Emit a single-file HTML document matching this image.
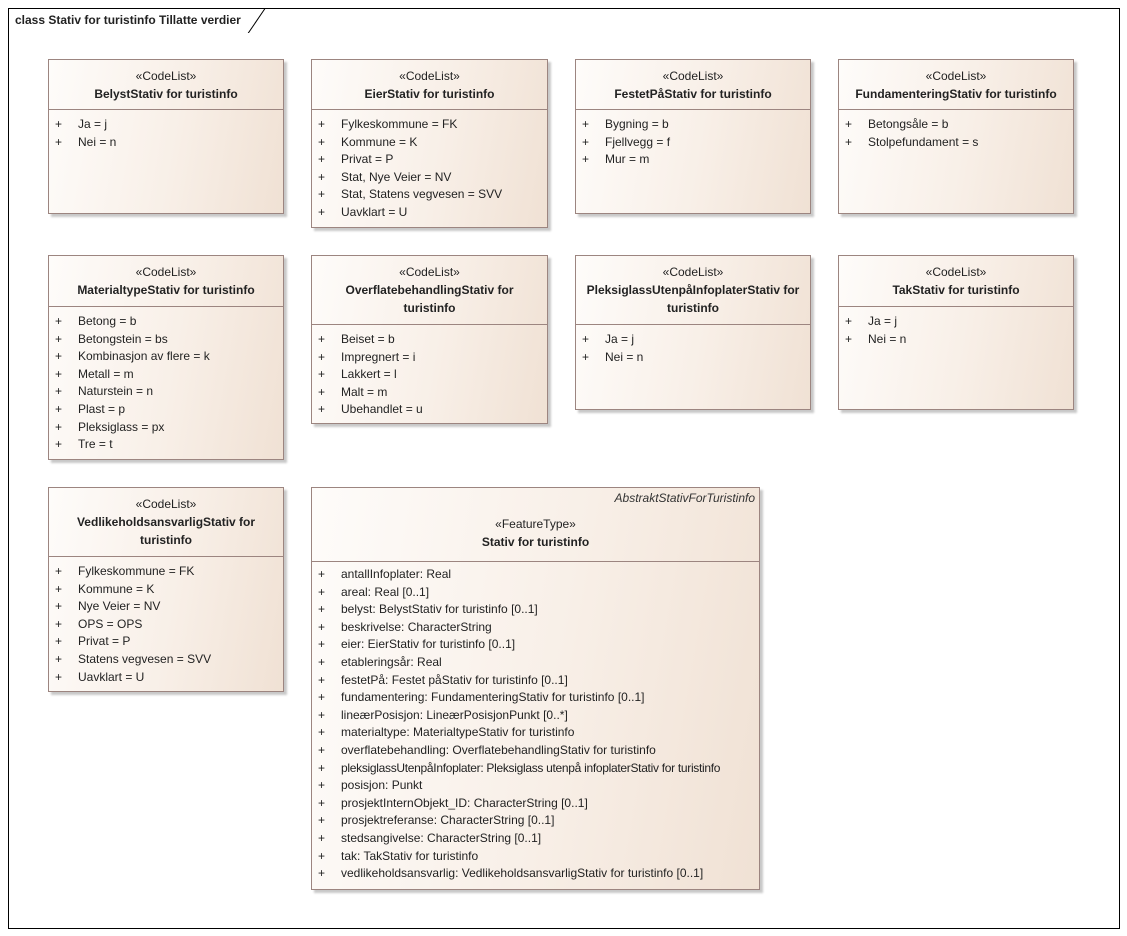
<!DOCTYPE html>
<html><head><meta charset="utf-8"><style>
body{margin:0;width:1127px;height:936px;background:#fff;font-family:"Liberation Sans",sans-serif;font-size:12px;color:#222;position:relative;overflow:hidden}
.frame{position:absolute;left:8px;top:8px;width:1110px;height:919px;border:1px solid #000}
.tab{position:absolute;left:8px;top:8px;height:25px}
.tab span{position:absolute;left:7px;top:5px;font-weight:bold;font-size:12px;white-space:nowrap}
.box{position:absolute;border:1px solid #9c8580;background:linear-gradient(100deg,#fefcfa 0%,#f8efe7 55%,#f0e1d4 100%);box-shadow:3px 3px 2px #c8c8c8;box-sizing:border-box}
.hd{border-bottom:1px solid #9c8580;text-align:center;box-sizing:border-box;padding-top:7px;line-height:18px}
.hd b{display:block}
.at{padding:6px 0 0 6px;line-height:17.6px;white-space:nowrap}
.at div span{display:inline-block;width:23px}
.ab{position:absolute;right:4px;top:3px;font-style:italic;color:#333}
</style></head><body>
<div class="frame"></div>
<svg class="tab" width="262" height="26" style="position:absolute;left:8px;top:8px"><path d="M0 25.5 H240 L257 0.5" fill="none" stroke="#000"/></svg>
<div class="tab" style="width:260px"><span>class Stativ for turistinfo Tillatte verdier</span></div>

<div class="box" style="left:48px;top:59px;width:236px;height:155px"><div class="hd" style="height:50px">«CodeList»<b>BelystStativ for turistinfo</b></div><div class="at"><div><span>+</span>Ja = j</div><div><span>+</span>Nei = n</div></div></div>

<div class="box" style="left:311px;top:59px;width:237px;height:169px"><div class="hd" style="height:50px">«CodeList»<b>EierStativ for turistinfo</b></div><div class="at"><div><span>+</span>Fylkeskommune = FK</div><div><span>+</span>Kommune = K</div><div><span>+</span>Privat = P</div><div><span>+</span>Stat, Nye Veier = NV</div><div><span>+</span>Stat, Statens vegvesen = SVV</div><div><span>+</span>Uavklart = U</div></div></div>

<div class="box" style="left:575px;top:59px;width:236px;height:155px"><div class="hd" style="height:50px">«CodeList»<b>FestetPåStativ for turistinfo</b></div><div class="at"><div><span>+</span>Bygning = b</div><div><span>+</span>Fjellvegg = f</div><div><span>+</span>Mur = m</div></div></div>

<div class="box" style="left:838px;top:59px;width:236px;height:155px"><div class="hd" style="height:50px">«CodeList»<b>FundamenteringStativ for turistinfo</b></div><div class="at"><div><span>+</span>Betongsåle = b</div><div><span>+</span>Stolpefundament = s</div></div></div>

<div class="box" style="left:48px;top:255px;width:236px;height:205px"><div class="hd" style="height:51px">«CodeList»<b>MaterialtypeStativ for turistinfo</b></div><div class="at"><div><span>+</span>Betong = b</div><div><span>+</span>Betongstein = bs</div><div><span>+</span>Kombinasjon av flere = k</div><div><span>+</span>Metall = m</div><div><span>+</span>Naturstein = n</div><div><span>+</span>Plast = p</div><div><span>+</span>Pleksiglass = px</div><div><span>+</span>Tre = t</div></div></div>

<div class="box" style="left:311px;top:255px;width:237px;height:169px"><div class="hd" style="height:69px">«CodeList»<b>OverflatebehandlingStativ for<br>turistinfo</b></div><div class="at"><div><span>+</span>Beiset = b</div><div><span>+</span>Impregnert = i</div><div><span>+</span>Lakkert = l</div><div><span>+</span>Malt = m</div><div><span>+</span>Ubehandlet = u</div></div></div>

<div class="box" style="left:575px;top:255px;width:236px;height:155px"><div class="hd" style="height:69px">«CodeList»<b>PleksiglassUtenpåInfoplaterStativ for<br>turistinfo</b></div><div class="at"><div><span>+</span>Ja = j</div><div><span>+</span>Nei = n</div></div></div>

<div class="box" style="left:838px;top:255px;width:236px;height:155px"><div class="hd" style="height:51px">«CodeList»<b>TakStativ for turistinfo</b></div><div class="at"><div><span>+</span>Ja = j</div><div><span>+</span>Nei = n</div></div></div>

<div class="box" style="left:48px;top:487px;width:236px;height:205px"><div class="hd" style="height:69px">«CodeList»<b>VedlikeholdsansvarligStativ for<br>turistinfo</b></div><div class="at"><div><span>+</span>Fylkeskommune = FK</div><div><span>+</span>Kommune = K</div><div><span>+</span>Nye Veier = NV</div><div><span>+</span>OPS = OPS</div><div><span>+</span>Privat = P</div><div><span>+</span>Statens vegvesen = SVV</div><div><span>+</span>Uavklart = U</div></div></div>

<div class="box" style="left:311px;top:487px;width:449px;height:403px"><div class="ab">AbstraktStativForTuristinfo</div><div class="hd" style="height:74px;padding-top:27px">«FeatureType»<b>Stativ for turistinfo</b></div><div class="at" style="padding-top:4px"><div><span>+</span>antallInfoplater: Real</div><div><span>+</span>areal: Real [0..1]</div><div><span>+</span>belyst: BelystStativ for turistinfo [0..1]</div><div><span>+</span>beskrivelse: CharacterString</div><div><span>+</span>eier: EierStativ for turistinfo [0..1]</div><div><span>+</span>etableringsår: Real</div><div><span>+</span>festetPå: Festet påStativ for turistinfo [0..1]</div><div><span>+</span>fundamentering: FundamenteringStativ for turistinfo [0..1]</div><div><span>+</span>lineærPosisjon: LineærPosisjonPunkt [0..*]</div><div><span>+</span>materialtype: MaterialtypeStativ for turistinfo</div><div><span>+</span>overflatebehandling: OverflatebehandlingStativ for turistinfo</div><div><span>+</span><span style="width:auto;letter-spacing:-0.3px">pleksiglassUtenpåInfoplater: Pleksiglass utenpå infoplaterStativ for turistinfo</span></div><div><span>+</span>posisjon: Punkt</div><div><span>+</span>prosjektInternObjekt_ID: CharacterString [0..1]</div><div><span>+</span>prosjektreferanse: CharacterString [0..1]</div><div><span>+</span>stedsangivelse: CharacterString [0..1]</div><div><span>+</span>tak: TakStativ for turistinfo</div><div><span>+</span>vedlikeholdsansvarlig: VedlikeholdsansvarligStativ for turistinfo [0..1]</div></div></div>
</body></html>
